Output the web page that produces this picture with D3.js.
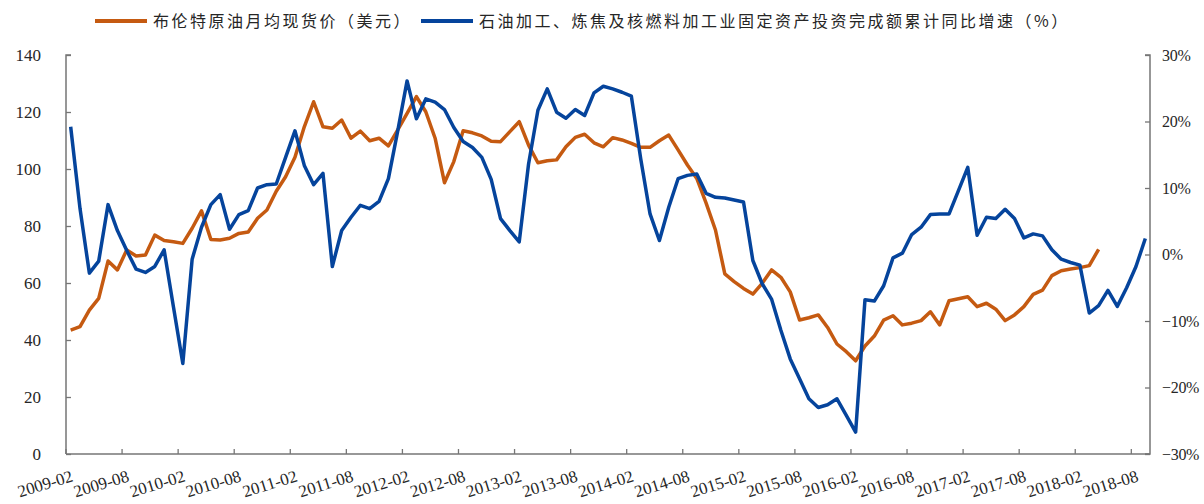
<!DOCTYPE html>
<html>
<head>
<meta charset="utf-8">
<script src="https://cdn.jsdelivr.net/npm/d3@7"></script>
<style>
  body { margin: 0; background: #fff; }
</style>
</head>
<body>
<div id="chart"></div>
<script>
// monthly categories, 2009-02 .. 2018-09
var months = d3.timeMonth.range(new Date(2009, 1, 1), new Date(2018, 9, 1)).map(d3.timeFormat("%Y-%m"));

var tickLabels = ["2009-02","2009-08","2010-02","2010-08","2011-02","2011-08","2012-02","2012-08",
  "2013-02","2013-08","2014-02","2014-08","2015-02","2015-08","2016-02","2016-08",
  "2017-02","2017-08","2018-02","2018-08"];

var seriesNames = ["布伦特原油月均现货价（美元）", "石油加工、炼焦及核燃料加工业固定资产投资完成额累计同比增速（%）"];

// Brent monthly average spot price (USD), 2009-02 .. 2018-04
var brent = [43.5,44.7,50.5,54.6,67.7,64.6,71.6,69.5,69.8,76.8,74.9,74.5,
  73.9,79.2,85.3,75.3,75.1,75.7,77.4,77.9,82.7,85.6,92.2,97.3,
  104.1,114.8,123.6,114.8,114.3,117.2,110.8,113.3,109.9,110.8,108.1,113.7,
  119.5,125.4,120.1,110.8,95.2,102.6,113.4,112.7,111.6,109.7,109.6,113.1,
  116.6,108.4,102.2,102.9,103.2,107.8,111.1,112.2,109.2,107.8,111.0,110.2,
  109.0,107.6,107.6,109.9,111.9,106.7,101.4,96.7,88.0,78.6,63.2,60.5,
  58.1,56.1,59.9,64.6,62.0,56.9,47.0,47.8,48.8,44.4,38.6,35.9,
  32.7,37.9,41.4,47.0,48.5,45.3,45.9,46.8,49.9,45.3,53.8,54.5,
  55.2,51.7,52.9,50.8,46.8,48.8,51.7,56.0,57.5,62.6,64.3,64.9,
  65.4,66.1,71.8];

// cumulative YoY growth of fixed asset investment (%), 2009-02 .. 2018-09
var growth = [19.2,6.9,-2.8,-1.0,7.5,3.6,0.6,-2.2,-2.7,-1.8,0.7,-7.9,
  -16.4,-0.7,4.1,7.5,9.0,3.8,6.0,6.6,10.0,10.5,10.6,14.6,
  18.6,13.4,10.5,12.2,-1.8,3.6,5.6,7.4,6.9,8.0,11.4,18.6,
  26.1,20.4,23.4,22.9,21.8,19.1,17.0,16.1,14.6,11.3,5.4,3.6,
  1.9,13.6,21.7,24.9,21.4,20.5,21.8,20.9,24.3,25.3,24.9,24.4,
  23.8,14.4,6.1,2.1,7.1,11.4,11.9,12.1,9.2,8.6,8.5,8.2,
  7.9,-0.9,-4.4,-6.7,-11.4,-15.7,-18.7,-21.7,-23.0,-22.6,-21.7,-24.2,
  -26.7,-6.8,-7.0,-4.7,-0.5,0.2,3.0,4.1,6.0,6.1,6.1,9.6,
  13.1,2.9,5.6,5.4,6.8,5.4,2.5,3.1,2.8,0.7,-0.7,-1.2,
  -1.6,-8.8,-7.7,-5.4,-7.8,-5.0,-1.8,2.4];

var leftTicks = [0, 20, 40, 60, 80, 100, 120, 140];
var rightTicks = [-30, -20, -10, 0, 10, 20, 30];
var colors = ["#C55A11", "#05449C"];

var width = 1204, height = 504;
var margin = {top: 55, right: 54, bottom: 50, left: 66};

var svg = d3.select("#chart").append("svg")
  .attr("width", width)
  .attr("height", height);

var x = d3.scaleBand()
  .domain(months)
  .range([margin.left, width - margin.right])
  .padding(0);

var yL = d3.scaleLinear().domain([0, 140]).range([height - margin.bottom, margin.top]);
var yR = d3.scaleLinear().domain([-30, 30]).range([height - margin.bottom, margin.top]);

var axisColor = "#767676";
var numFont = "'Liberation Serif', 'Times New Roman', serif";

// left axis
var gL = svg.append("g").attr("transform", `translate(${margin.left},0)`)
  .call(d3.axisRight(yL).tickValues(leftTicks).tickSize(5).tickFormat(d3.format("d")));
gL.select(".domain").attr("stroke", axisColor).attr("stroke-width", 1.5).attr("d", `M5,${yL(140)}H0V${yL(0)}`);
gL.selectAll(".tick line").attr("stroke", axisColor).attr("stroke-width", 1.3);
gL.selectAll(".tick text")
  .attr("x", -25).attr("text-anchor", "end")
  .style("font-family", numFont).style("font-size", "17px").attr("fill", "#262626");

// right axis
var gR = svg.append("g").attr("transform", `translate(${width - margin.right},0)`)
  .call(d3.axisLeft(yR).tickValues(rightTicks).tickSize(5).tickFormat(d => d3.format("d")(d) + "%"));
gR.select(".domain").attr("stroke", axisColor).attr("stroke-width", 1.5).attr("d", `M-5,${yR(30)}H0V${yR(-30)}H-5`);
gR.selectAll(".tick line").attr("stroke", axisColor).attr("stroke-width", 1.3);
gR.selectAll(".tick text")
  .attr("x", 12).attr("text-anchor", "start")
  .style("font-family", numFont).style("font-size", "16px")
  .style("letter-spacing", "-0.3px")
  .attr("fill", "#262626");

// bottom axis, ticks at every 6th month boundary
var gX = svg.append("g").attr("transform", `translate(0,${height - margin.bottom})`);
gX.append("line")
  .attr("x1", margin.left).attr("x2", width - margin.right)
  .attr("stroke", axisColor).attr("stroke-width", 1.5);
gX.selectAll("line.tick")
  .data(tickLabels)
  .join("line")
  .attr("class", "tick")
  .attr("x1", d => x(d)).attr("x2", d => x(d))
  .attr("y1", 0).attr("y2", -5)
  .attr("stroke", axisColor).attr("stroke-width", 1.3);
gX.selectAll("text")
  .data(tickLabels)
  .join("text")
  .attr("transform", d => `translate(${x(d) + 8},27) rotate(-17)`)
  .attr("text-anchor", "end")
  .style("font-family", numFont).style("font-size", "17px")
  .attr("fill", "#262626")
  .text(d => d);

// lines
var lineL = d3.line().x((d, i) => x(months[i]) + x.bandwidth() / 2).y(d => yL(d));
var lineR = d3.line().x((d, i) => x(months[i]) + x.bandwidth() / 2).y(d => yR(d));

svg.append("path").datum(brent)
  .attr("fill", "none").attr("stroke", colors[0]).attr("stroke-width", 3.5)
  .attr("stroke-linejoin", "round").attr("d", lineL);

svg.append("path").datum(growth)
  .attr("fill", "none").attr("stroke", colors[1]).attr("stroke-width", 3.5)
  .attr("stroke-linejoin", "round").attr("d", lineR);

// legend
var legendX = [95, 421];
var leg = svg.append("g").attr("class", "legend");
seriesNames.forEach(function(name, i) {
  leg.append("line")
    .attr("x1", legendX[i]).attr("x2", legendX[i] + 52)
    .attr("y1", 21).attr("y2", 21)
    .attr("stroke", colors[i]).attr("stroke-width", 4);
  leg.append("text")
    .attr("x", legendX[i] + 58).attr("y", 27)
    .style("font-family", "'Noto Sans CJK SC', sans-serif")
    .style("font-size", "16px")
    .style("letter-spacing", "2.5px")
    .attr("fill", "#262626")
    .text(name);
});
</script>
</body>
</html>
